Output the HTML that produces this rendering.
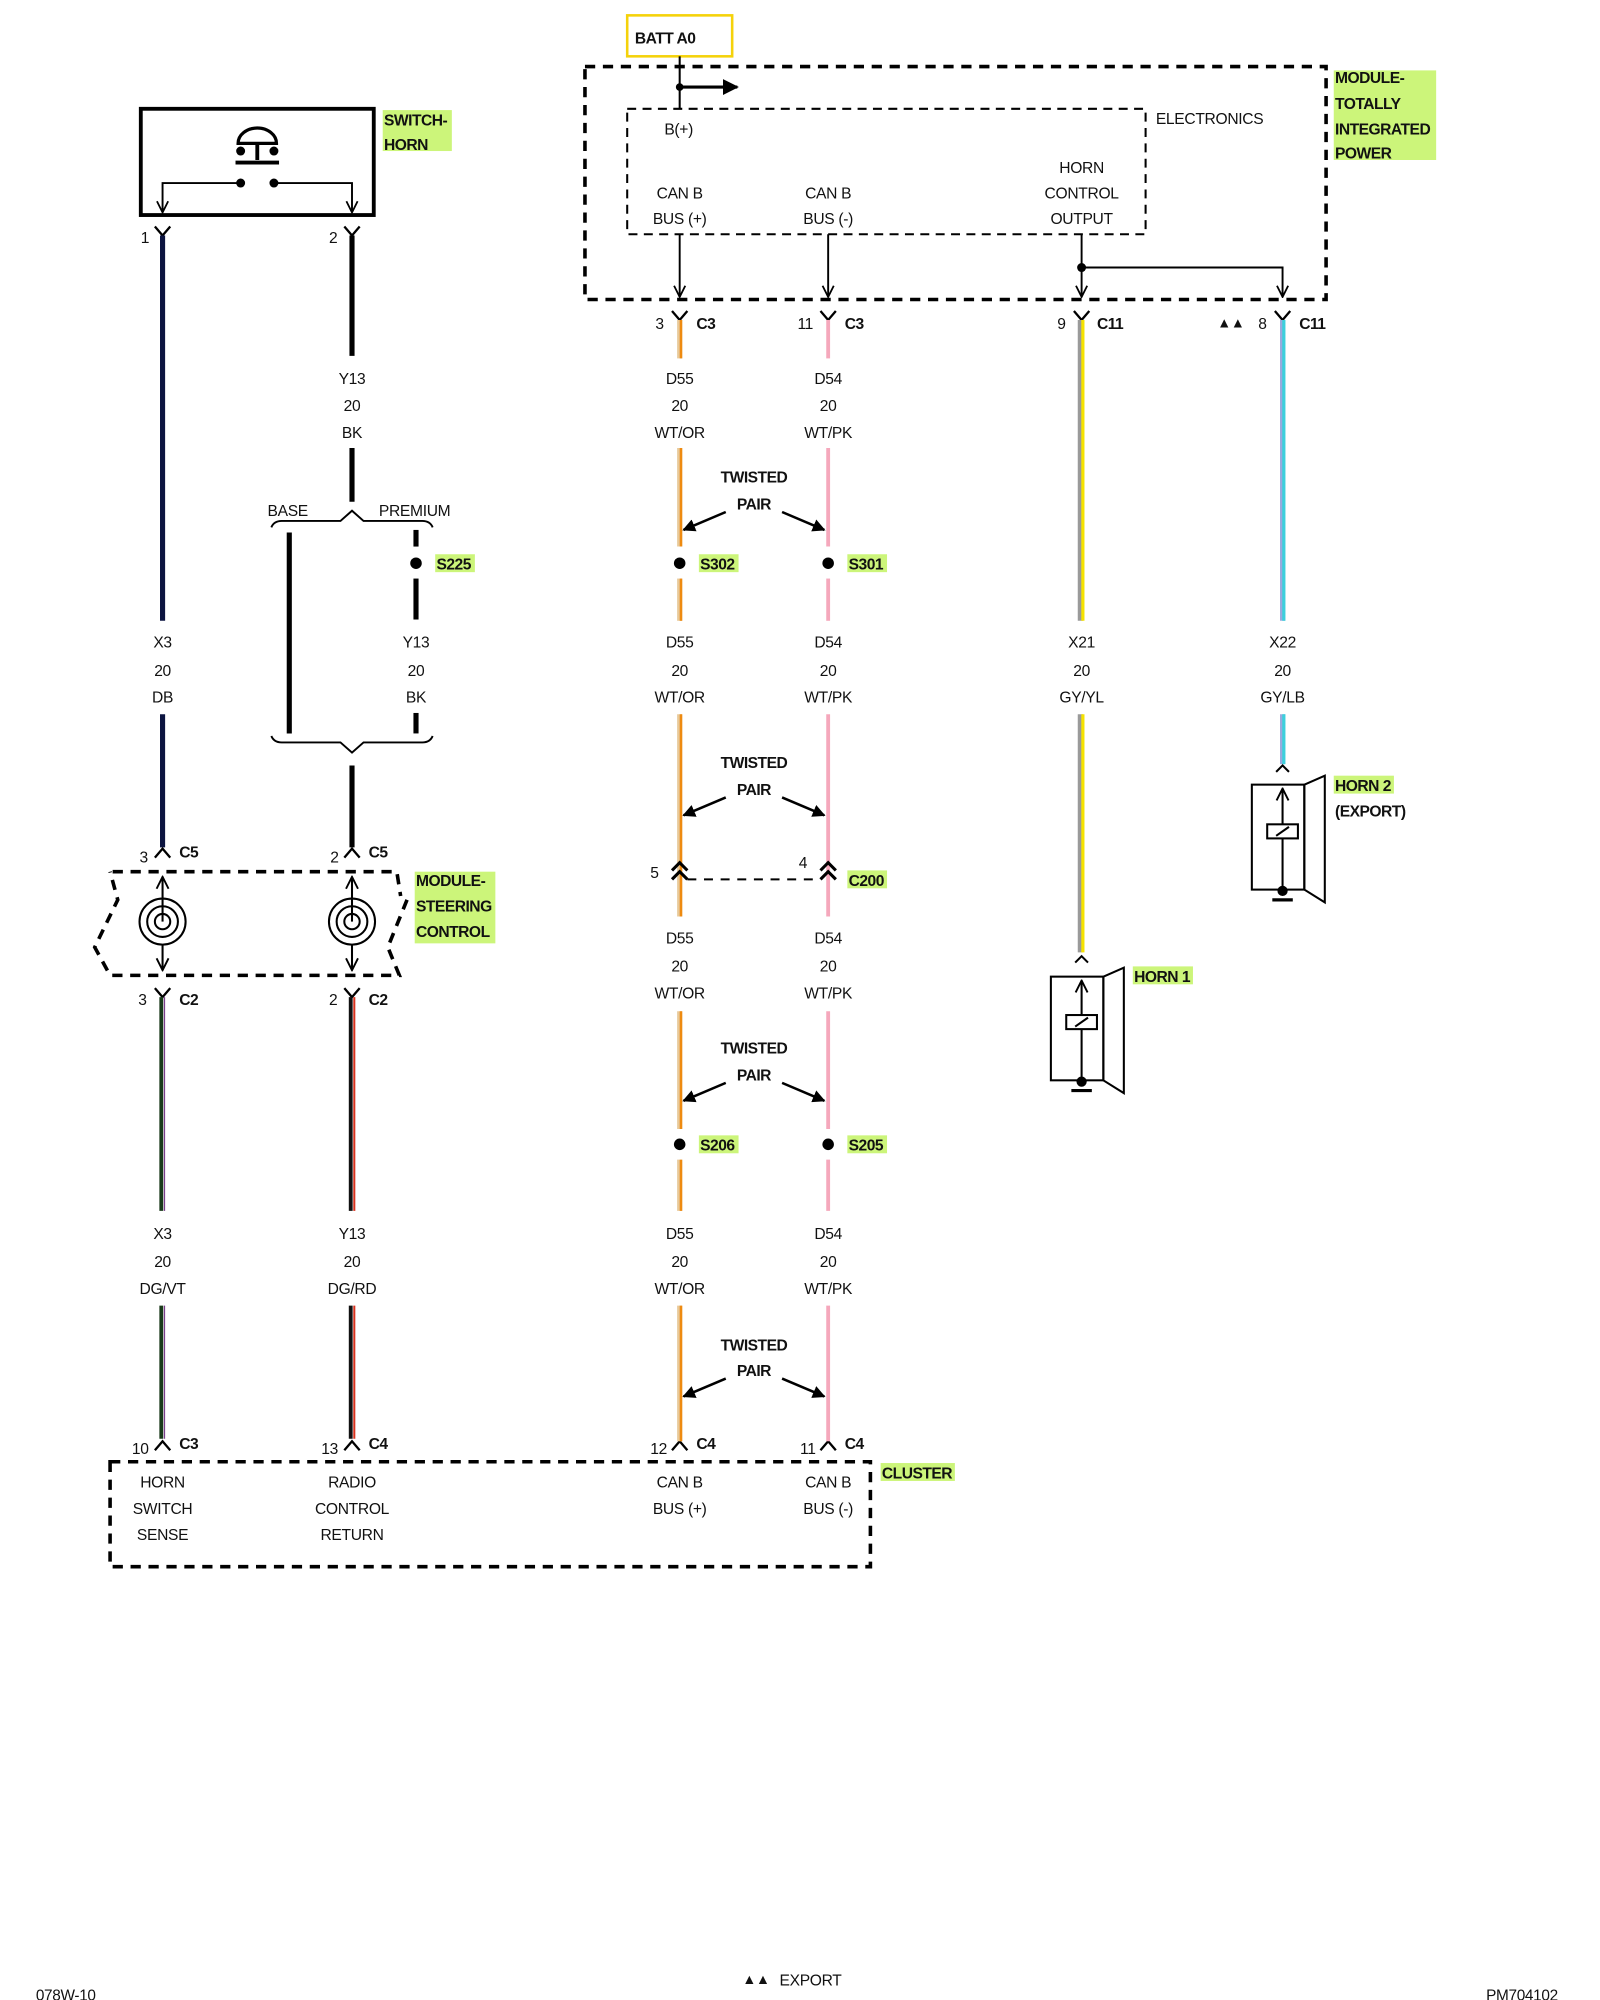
<!DOCTYPE html>
<html><head><meta charset="utf-8"><style>
html,body{margin:0;padding:0;background:#fff;}
svg{display:block;}
text{font-family:"Liberation Sans",sans-serif;font-size:12.2px;letter-spacing:-0.25px;fill:#111;}
.b{font-weight:bold;font-size:12.2px;letter-spacing:-0.4px;}
.m{text-anchor:middle;}
</style></head><body>
<svg width="1600" height="2000" viewBox="0 0 1250 1562.5" preserveAspectRatio="none" xmlns="http://www.w3.org/2000/svg">
<defs>
<marker id="ah" viewBox="0 0 10 10" refX="9" refY="5" markerWidth="5" markerHeight="5" orient="auto"><path d="M0,0L10,5L0,10z" fill="#000"/></marker>
<marker id="oa" viewBox="0 0 12 12" refX="11" refY="6" markerWidth="7" markerHeight="7" orient="auto-start-reverse"><path d="M1,1L11,6L1,11" fill="none" stroke="#000" stroke-width="1.6"/></marker>
</defs>
<rect width="1250" height="1562.5" fill="#fff"/>

<!-- ============ SWITCH HORN ============ -->
<rect x="110" y="85" width="182" height="83" fill="none" stroke="#000" stroke-width="3"/>
<path d="M186,112 a15,12 0 0 1 30,0 z" fill="none" stroke="#000" stroke-width="2.5"/>
<line x1="201" y1="112" x2="201" y2="125" stroke="#000" stroke-width="3"/>
<line x1="184" y1="127" x2="218" y2="127" stroke="#000" stroke-width="3"/>
<circle cx="188" cy="118" r="3.5"/><circle cx="214" cy="118" r="3.5"/>
<circle cx="188" cy="143" r="3.5"/><circle cx="214" cy="143" r="3.5"/>
<polyline points="188,143 127,143 127,166" fill="none" stroke="#000" stroke-width="1.5" marker-end="url(#oa)"/>
<polyline points="214,143 275,143 275,166" fill="none" stroke="#000" stroke-width="1.5" marker-end="url(#oa)"/>
<rect x="299" y="86" width="54" height="32" fill="#ccf57a"/>
<text class="b" x="300" y="98">SWITCH-</text>
<text class="b" x="300" y="117">HORN</text>

<g stroke="#000" stroke-width="1.8" fill="none">
<polyline points="121,177 127,184 133,177"/>
<polyline points="269,177 275,184 281,177"/>
</g>
<text x="110" y="190">1</text><text x="257" y="190">2</text>

<line x1="127" y1="184" x2="127" y2="485" stroke="#0c1440" stroke-width="4"/>
<line x1="127" y1="558" x2="127" y2="662" stroke="#0c1440" stroke-width="4"/>
<text class="m" x="127" y="506">X3</text><text class="m" x="127" y="528">20</text><text class="m" x="127" y="549">DB</text>

<line x1="275" y1="184" x2="275" y2="278" stroke="#000" stroke-width="4"/>
<text class="m" x="275" y="300">Y13</text><text class="m" x="275" y="321">20</text><text class="m" x="275" y="342">BK</text>
<line x1="275" y1="350" x2="275" y2="392" stroke="#000" stroke-width="4"/>
<path d="M212,412 q2,-5 8,-5 L266,407 L275,399 L284,407 L330,407 q6,0 8,5" fill="none" stroke="#000" stroke-width="1.5"/>
<text x="209" y="403">BASE</text><text x="296" y="403">PREMIUM</text>
<line x1="226" y1="416" x2="226" y2="573" stroke="#000" stroke-width="4"/>
<line x1="325" y1="414" x2="325" y2="427" stroke="#000" stroke-width="4"/>
<circle cx="325" cy="440" r="4.5"/>
<line x1="325" y1="452" x2="325" y2="484" stroke="#000" stroke-width="4"/>
<line x1="325" y1="557" x2="325" y2="573" stroke="#000" stroke-width="4"/>
<rect x="340" y="433" width="31" height="14" fill="#ccf57a"/>
<text class="b" x="341" y="445">S225</text>
<text class="m" x="325" y="506">Y13</text><text class="m" x="325" y="528">20</text><text class="m" x="325" y="549">BK</text>
<path d="M212,575 q2,5 8,5 L266,580 L275,588 L284,580 L330,580 q6,0 8,-5" fill="none" stroke="#000" stroke-width="1.5"/>
<line x1="275" y1="598" x2="275" y2="662" stroke="#000" stroke-width="4"/>

<g stroke="#000" stroke-width="1.8" fill="none">
<polyline points="121,670 127,663 133,670"/>
<polyline points="269,670 275,663 281,670"/>
</g>
<text x="109" y="674">3</text><text class="b" x="140" y="670">C5</text>
<text x="258" y="674">2</text><text class="b" x="288" y="670">C5</text>

<path d="M88,681 L310,681 L313,700 M318,703 L303,740 L312,762 L86,762 L74,740 L92,703 L86,681" fill="none" stroke="#000" stroke-width="2.8" stroke-dasharray="8,6"/>
<g fill="none" stroke="#000" stroke-width="1.6">
<line x1="127" y1="685" x2="127" y2="720" marker-start="url(#oa)"/>
<circle cx="127" cy="720" r="18"/><circle cx="127" cy="720" r="12"/><circle cx="127" cy="720" r="6"/>
<line x1="127" y1="738" x2="127" y2="758" marker-end="url(#oa)"/>
<line x1="275" y1="685" x2="275" y2="720" marker-start="url(#oa)"/>
<circle cx="275" cy="720" r="18"/><circle cx="275" cy="720" r="12"/><circle cx="275" cy="720" r="6"/>
<line x1="275" y1="738" x2="275" y2="758" marker-end="url(#oa)"/>
</g>
<rect x="324" y="681" width="63" height="56" fill="#ccf57a"/>
<text class="b" x="325" y="692">MODULE-</text>
<text class="b" x="325" y="712">STEERING</text>
<text class="b" x="325" y="732">CONTROL</text>

<g stroke="#000" stroke-width="1.8" fill="none">
<polyline points="121,772 127,779 133,772"/>
<polyline points="269,772 275,779 281,772"/>
</g>
<text x="108" y="785">3</text><text class="b" x="140" y="785">C2</text>
<text x="257" y="785">2</text><text class="b" x="288" y="785">C2</text>

<g>
<line x1="126" y1="779" x2="126" y2="946" stroke="#1a3a1a" stroke-width="3"/>
<line x1="128.5" y1="779" x2="128.5" y2="946" stroke="#7a3d8a" stroke-width="1"/>
<line x1="126" y1="1020" x2="126" y2="1124" stroke="#1a3a1a" stroke-width="3"/>
<line x1="128.5" y1="1020" x2="128.5" y2="1124" stroke="#7a3d8a" stroke-width="1"/>
<line x1="274" y1="779" x2="274" y2="946" stroke="#111" stroke-width="3"/>
<line x1="276.8" y1="779" x2="276.8" y2="946" stroke="#d8321e" stroke-width="1.6"/>
<line x1="274" y1="1020" x2="274" y2="1124" stroke="#111" stroke-width="3"/>
<line x1="276.8" y1="1020" x2="276.8" y2="1124" stroke="#d8321e" stroke-width="1.6"/>
</g>
<text class="m" x="127" y="968">X3</text><text class="m" x="127" y="990">20</text><text class="m" x="127" y="1011">DG/VT</text>
<text class="m" x="275" y="968">Y13</text><text class="m" x="275" y="990">20</text><text class="m" x="275" y="1011">DG/RD</text>

<g stroke="#000" stroke-width="1.8" fill="none">
<polyline points="121,1133 127,1126 133,1133"/>
<polyline points="269,1133 275,1126 281,1133"/>
<polyline points="525,1133 531,1126 537,1133"/>
<polyline points="641,1133 647,1126 653,1133"/>
</g>
<text x="103" y="1136">10</text><text class="b" x="140" y="1132">C3</text>
<text x="251" y="1136">13</text><text class="b" x="288" y="1132">C4</text>
<text x="508" y="1136">12</text><text class="b" x="544" y="1132">C4</text>
<text x="625" y="1136">11</text><text class="b" x="660" y="1132">C4</text>

<rect x="86" y="1142" width="594" height="82" fill="none" stroke="#000" stroke-width="2.8" stroke-dasharray="8,6"/>
<rect x="688" y="1143" width="58" height="14" fill="#ccf57a"/>
<text class="b" x="689" y="1155">CLUSTER</text>
<text class="m" x="127" y="1162">HORN</text><text class="m" x="127" y="1183">SWITCH</text><text class="m" x="127" y="1203">SENSE</text>
<text class="m" x="275" y="1162">RADIO</text><text class="m" x="275" y="1183">CONTROL</text><text class="m" x="275" y="1203">RETURN</text>
<text class="m" x="531" y="1162">CAN B</text><text class="m" x="531" y="1183">BUS (+)</text>
<text class="m" x="647" y="1162">CAN B</text><text class="m" x="647" y="1183">BUS (-)</text>

<!-- ============ TIPM ============ -->
<rect x="490" y="12" width="82" height="32" fill="#fff" stroke="#f5d20a" stroke-width="2"/>
<text class="b" x="496" y="34">BATT A0</text>
<rect x="457" y="52" width="579" height="182" fill="none" stroke="#000" stroke-width="2.8" stroke-dasharray="8,6"/>
<rect x="490" y="85" width="405" height="98" fill="none" stroke="#000" stroke-width="1.6" stroke-dasharray="7,5"/>
<line x1="531" y1="44" x2="531" y2="85" stroke="#000" stroke-width="1.6"/>
<circle cx="531" cy="68" r="3"/>
<line x1="531" y1="68" x2="576" y2="68" stroke="#000" stroke-width="2.5" marker-end="url(#ah)"/>
<text x="903" y="97">ELECTRONICS</text>
<text x="519" y="105">B(+)</text>
<text class="m" x="531" y="155">CAN B</text><text class="m" x="531" y="175">BUS (+)</text>
<text class="m" x="647" y="155">CAN B</text><text class="m" x="647" y="175">BUS (-)</text>
<text class="m" x="845" y="135">HORN</text><text class="m" x="845" y="155">CONTROL</text><text class="m" x="845" y="175">OUTPUT</text>
<g fill="none" stroke="#000" stroke-width="1.5">
<line x1="531" y1="183" x2="531" y2="232" marker-end="url(#oa)"/>
<line x1="647" y1="183" x2="647" y2="232" marker-end="url(#oa)"/>
<line x1="845" y1="183" x2="845" y2="232" marker-end="url(#oa)"/>
<polyline points="845,209 1002,209 1002,232" marker-end="url(#oa)"/>
</g>
<circle cx="845" cy="209" r="3.5"/>
<rect x="1042" y="55" width="80" height="70" fill="#ccf57a"/>
<text class="b" x="1043" y="65">MODULE-</text>
<text class="b" x="1043" y="85">TOTALLY</text>
<text class="b" x="1043" y="105">INTEGRATED</text>
<text class="b" x="1043" y="124">POWER</text>

<g stroke="#000" stroke-width="1.8" fill="none">
<polyline points="525,243 531,250 537,243"/>
<polyline points="641,243 647,250 653,243"/>
<polyline points="839,243 845,250 851,243"/>
<polyline points="996,243 1002,250 1008,243"/>
</g>
<text x="512" y="257">3</text><text class="b" x="544" y="257">C3</text>
<text x="623" y="257">11</text><text class="b" x="660" y="257">C3</text>
<text x="826" y="257">9</text><text class="b" x="857" y="257">C11</text>
<text x="951" y="256" style="font-size:11px">▲▲</text>
<text x="983" y="257">8</text><text class="b" x="1015" y="257">C11</text>

<g>
<line x1="531" y1="250" x2="531" y2="280" stroke="#e8c99a" stroke-width="4"/><line x1="532" y1="250" x2="532" y2="280" stroke="#ee8a10" stroke-width="2"/>
<line x1="531" y1="350" x2="531" y2="427" stroke="#e8c99a" stroke-width="4"/><line x1="532" y1="350" x2="532" y2="427" stroke="#ee8a10" stroke-width="2"/>
<line x1="531" y1="452" x2="531" y2="485" stroke="#e8c99a" stroke-width="4"/><line x1="532" y1="452" x2="532" y2="485" stroke="#ee8a10" stroke-width="2"/>
<line x1="531" y1="558" x2="531" y2="716" stroke="#e8c99a" stroke-width="4"/><line x1="532" y1="558" x2="532" y2="716" stroke="#ee8a10" stroke-width="2"/>
<line x1="531" y1="790" x2="531" y2="882" stroke="#e8c99a" stroke-width="4"/><line x1="532" y1="790" x2="532" y2="882" stroke="#ee8a10" stroke-width="2"/>
<line x1="531" y1="906" x2="531" y2="946" stroke="#e8c99a" stroke-width="4"/><line x1="532" y1="906" x2="532" y2="946" stroke="#ee8a10" stroke-width="2"/>
<line x1="531" y1="1020" x2="531" y2="1126" stroke="#e8c99a" stroke-width="4"/><line x1="532" y1="1020" x2="532" y2="1126" stroke="#ee8a10" stroke-width="2"/>
</g>
<g>
<line x1="647" y1="250" x2="647" y2="280" stroke="#f5a8bc" stroke-width="3"/>
<line x1="647" y1="350" x2="647" y2="427" stroke="#f5a8bc" stroke-width="3"/>
<line x1="647" y1="452" x2="647" y2="485" stroke="#f5a8bc" stroke-width="3"/>
<line x1="647" y1="558" x2="647" y2="716" stroke="#f5a8bc" stroke-width="3"/>
<line x1="647" y1="790" x2="647" y2="882" stroke="#f5a8bc" stroke-width="3"/>
<line x1="647" y1="906" x2="647" y2="946" stroke="#f5a8bc" stroke-width="3"/>
<line x1="647" y1="1020" x2="647" y2="1126" stroke="#f5a8bc" stroke-width="3"/>
</g>

<g>
<text class="m" x="531" y="300">D55</text><text class="m" x="531" y="321">20</text><text class="m" x="531" y="342">WT/OR</text>
<text class="m" x="647" y="300">D54</text><text class="m" x="647" y="321">20</text><text class="m" x="647" y="342">WT/PK</text>
<text class="m" x="531" y="506">D55</text><text class="m" x="531" y="528">20</text><text class="m" x="531" y="549">WT/OR</text>
<text class="m" x="647" y="506">D54</text><text class="m" x="647" y="528">20</text><text class="m" x="647" y="549">WT/PK</text>
<text class="m" x="531" y="737">D55</text><text class="m" x="531" y="759">20</text><text class="m" x="531" y="780">WT/OR</text>
<text class="m" x="647" y="737">D54</text><text class="m" x="647" y="759">20</text><text class="m" x="647" y="780">WT/PK</text>
<text class="m" x="531" y="968">D55</text><text class="m" x="531" y="990">20</text><text class="m" x="531" y="1011">WT/OR</text>
<text class="m" x="647" y="968">D54</text><text class="m" x="647" y="990">20</text><text class="m" x="647" y="1011">WT/PK</text>
</g>

<g>
<text class="b m" x="589" y="377">TWISTED</text><text class="b m" x="589" y="398">PAIR</text>
<line x1="567" y1="400" x2="534" y2="414" stroke="#000" stroke-width="2" marker-end="url(#ah)"/>
<line x1="611" y1="400" x2="644" y2="414" stroke="#000" stroke-width="2" marker-end="url(#ah)"/>
<text class="b m" x="589" y="600">TWISTED</text><text class="b m" x="589" y="621">PAIR</text>
<line x1="567" y1="623" x2="534" y2="637" stroke="#000" stroke-width="2" marker-end="url(#ah)"/>
<line x1="611" y1="623" x2="644" y2="637" stroke="#000" stroke-width="2" marker-end="url(#ah)"/>
<text class="b m" x="589" y="823">TWISTED</text><text class="b m" x="589" y="844">PAIR</text>
<line x1="567" y1="846" x2="534" y2="860" stroke="#000" stroke-width="2" marker-end="url(#ah)"/>
<line x1="611" y1="846" x2="644" y2="860" stroke="#000" stroke-width="2" marker-end="url(#ah)"/>
<text class="b m" x="589" y="1055">TWISTED</text><text class="b m" x="589" y="1075">PAIR</text>
<line x1="567" y1="1077" x2="534" y2="1091" stroke="#000" stroke-width="2" marker-end="url(#ah)"/>
<line x1="611" y1="1077" x2="644" y2="1091" stroke="#000" stroke-width="2" marker-end="url(#ah)"/>
</g>

<circle cx="531" cy="440" r="4.5"/><circle cx="647" cy="440" r="4.5"/>
<rect x="546" y="433" width="31" height="14" fill="#ccf57a"/><text class="b" x="547" y="445">S302</text>
<rect x="662" y="433" width="31" height="14" fill="#ccf57a"/><text class="b" x="663" y="445">S301</text>
<circle cx="531" cy="894" r="4.5"/><circle cx="647" cy="894" r="4.5"/>
<rect x="546" y="887" width="31" height="14" fill="#ccf57a"/><text class="b" x="547" y="899">S206</text>
<rect x="662" y="887" width="31" height="14" fill="#ccf57a"/><text class="b" x="663" y="899">S205</text>

<g stroke="#000" stroke-width="2.4" fill="none">
<polyline points="525,680 531,674 537,680"/><polyline points="525,687 531,681 537,687"/>
<polyline points="641,680 647,674 653,680"/><polyline points="641,687 647,681 653,687"/>
</g>
<line x1="537" y1="687" x2="641" y2="687" stroke="#000" stroke-width="1.5" stroke-dasharray="7,6"/>
<text x="508" y="686">5</text><text x="624" y="678">4</text>
<rect x="662" y="680" width="31" height="14" fill="#ccf57a"/><text class="b" x="663" y="692">C200</text>

<line x1="844" y1="250" x2="844" y2="485" stroke="#9a9a9a" stroke-width="4"/>
<line x1="846" y1="250" x2="846" y2="485" stroke="#f5e200" stroke-width="2.5"/>
<line x1="844" y1="558" x2="844" y2="744" stroke="#9a9a9a" stroke-width="4"/>
<line x1="846" y1="558" x2="846" y2="744" stroke="#f5e200" stroke-width="2.5"/>
<text class="m" x="845" y="506">X21</text><text class="m" x="845" y="528">20</text><text class="m" x="845" y="549">GY/YL</text>
<line x1="1002" y1="250" x2="1002" y2="485" stroke="#9ad" stroke-width="4"/>
<line x1="1003" y1="250" x2="1003" y2="485" stroke="#3cd0dc" stroke-width="2.5"/>
<line x1="1002" y1="558" x2="1002" y2="597" stroke="#9ad" stroke-width="4"/>
<line x1="1003" y1="558" x2="1003" y2="597" stroke="#3cd0dc" stroke-width="2.5"/>
<text class="m" x="1002" y="506">X22</text><text class="m" x="1002" y="528">20</text><text class="m" x="1002" y="549">GY/LB</text>

<g stroke="#000" stroke-width="1.6" fill="none">
<polyline points="840,752 845,747 850,752"/>
<rect x="821" y="763" width="41" height="81"/>
<polygon points="862,763 878,756 878,854 862,844"/>
<line x1="845" y1="766" x2="845" y2="843" marker-start="url(#oa)"/>
<rect x="833" y="793" width="24" height="11" fill="#fff"/>
<line x1="840" y1="802" x2="850" y2="795"/>
<line x1="837" y1="852" x2="853" y2="852" stroke-width="2.5"/>
</g>
<circle cx="845" cy="845" r="4"/>
<rect x="885" y="755" width="47" height="14" fill="#ccf57a"/><text class="b" x="886" y="767">HORN 1</text>

<g stroke="#000" stroke-width="1.6" fill="none">
<polyline points="997,603 1002,598 1007,603"/>
<rect x="978" y="613" width="41" height="82"/>
<polygon points="1019,613 1035,606 1035,705 1019,695"/>
<line x1="1002" y1="616" x2="1002" y2="694" marker-start="url(#oa)"/>
<rect x="990" y="644" width="24" height="11" fill="#fff"/>
<line x1="997" y1="653" x2="1007" y2="646"/>
<line x1="994" y1="703" x2="1010" y2="703" stroke-width="2.5"/>
</g>
<circle cx="1002" cy="696" r="4"/>
<rect x="1042" y="606" width="47" height="14" fill="#ccf57a"/><text class="b" x="1043" y="618">HORN 2</text>
<text class="b" x="1043" y="638">(EXPORT)</text>

<text x="28" y="1563" style="font-size:12px">078W-10</text>
<text x="580" y="1550" style="font-size:11px">▲▲</text>
<text x="609" y="1551">EXPORT</text>
<text x="1161" y="1563" style="font-size:12px">PM704102</text>
</svg>
</body></html>
